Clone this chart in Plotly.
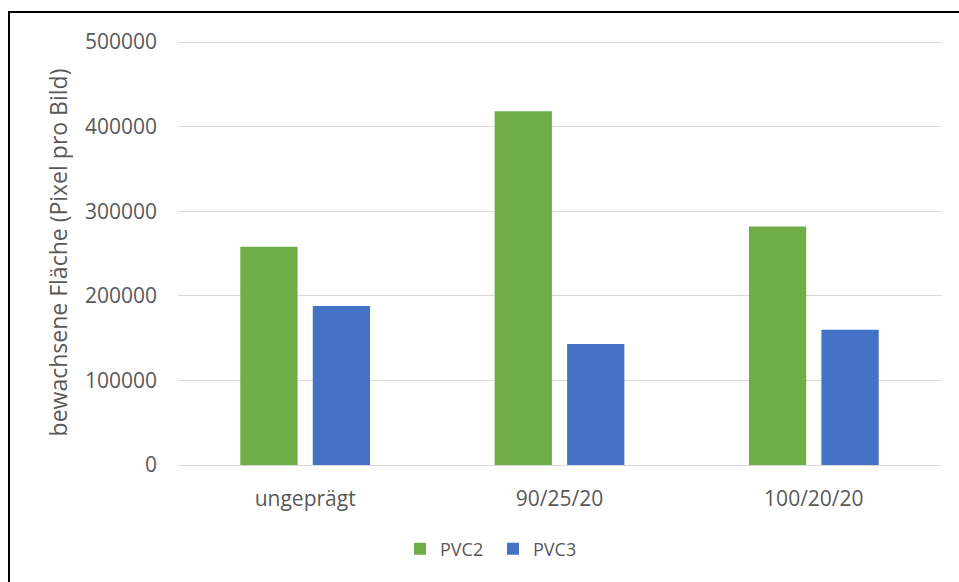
import plotly.graph_objects as go

categories = ["ungeprägt", "90/25/20", "100/20/20"]
pvc2 = [258000, 418000, 282000]
pvc3 = [188000, 143000, 160000]
y_ticks = [0, 100000, 200000, 300000, 400000, 500000]

W, H = 959, 582
L, R, T, B = 178, 18, 40, 117
pw, ph = W - L - R, H - T - B

# pixel rows of the 0 and 500000 gridlines
Y0_PX, Y500_PX = 465, 42
y_top = 500000 * (Y0_PX - T) / (Y0_PX - Y500_PX)

def px_x(x):
    return (x - L) / pw

def px_y(y):
    return (H - B - y) / ph

text_color = "#595959"
font_family = "Open Sans, Liberation Sans, sans-serif"

fig = go.Figure()
fig.add_trace(go.Bar(name="PVC2", x=categories, y=pvc2, marker=dict(color="#70AD47", line=dict(width=0))))
fig.add_trace(go.Bar(name="PVC3", x=categories, y=pvc3, marker=dict(color="#4472C4", line=dict(width=0))))

fig.update_layout(
    width=W, height=H,
    margin=dict(l=L, r=R, t=T, b=B, autoexpand=False),
    paper_bgcolor="white", plot_bgcolor="white",
    barmode="group", bargap=0.43, bargroupgap=0.21,
    font=dict(family=font_family, color=text_color, size=21),
    showlegend=True,
    legend=dict(orientation="h", x=px_x(493), xanchor="center", y=px_y(549), yanchor="middle",
                font=dict(size=18, color=text_color), itemwidth=30, traceorder="normal",
                entrywidth=48, entrywidthmode="pixels"),
    xaxis=dict(showgrid=False, showline=False, ticks="", ticklabelstandoff=19,
               tickfont=dict(size=21, color=text_color)),
    yaxis=dict(range=[0, y_top], tickvals=y_ticks, ticktext=[str(v) for v in y_ticks],
               showgrid=True, gridcolor="#D9D9D9", gridwidth=1.3, zeroline=True,
               zerolinecolor="#D9D9D9", zerolinewidth=1.3, showline=False,
               ticks="", ticklabelstandoff=20, tickfont=dict(size=21, color=text_color),
               title=dict(text="bewachsene Fläche (Pixel pro Bild)", standoff=10,
                          font=dict(size=23, color=text_color))),
    shapes=[dict(type="rect", xref="paper", yref="paper",
                 x0=px_x(9), x1=px_x(1000), y0=px_y(640), y1=px_y(12),
                 line=dict(color="black", width=2), fillcolor="rgba(0,0,0,0)", layer="above")],
)

fig.write_html("out.html")
